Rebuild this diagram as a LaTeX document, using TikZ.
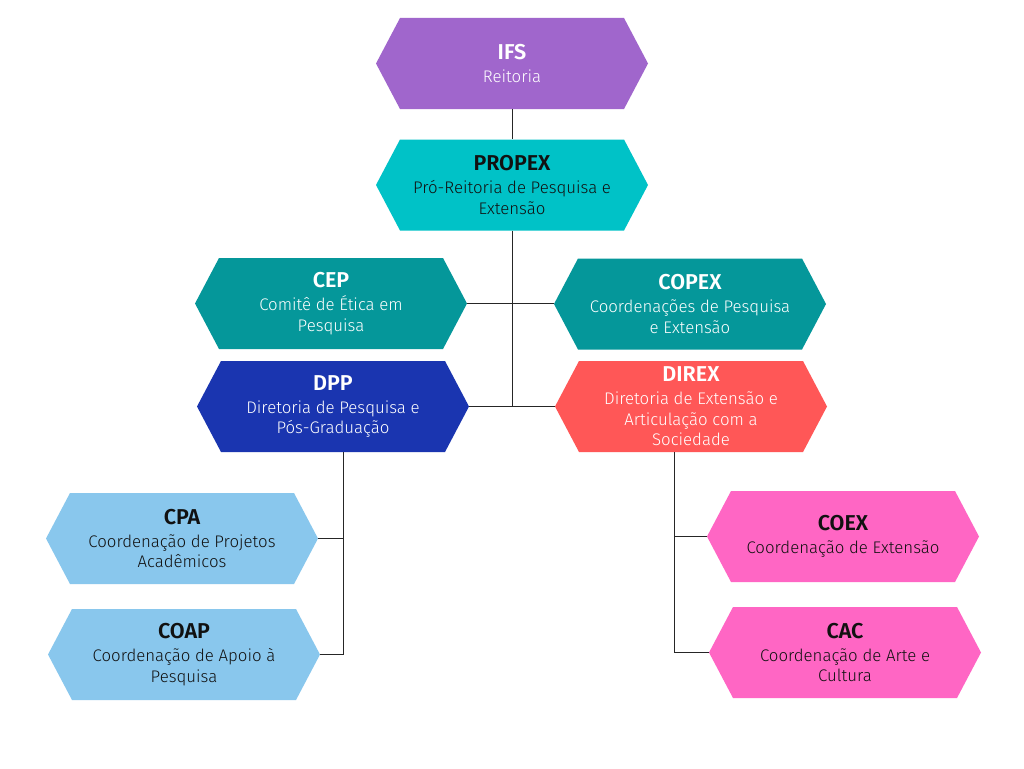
\documentclass[tikz,border=0pt]{standalone}
\usepackage{fontspec}
\setmainfont{Fira Sans}
\newfontfamily\descf{Fira Sans Light}
\newfontfamily\titlef{Fira Sans SemiBold}
\definecolor{cifs}{HTML}{A066CC}
\definecolor{cpropex}{HTML}{00C2C7}
\definecolor{cteal}{HTML}{05979A}
\definecolor{cdpp}{HTML}{1A35B0}
\definecolor{cdirex}{HTML}{FF5757}
\definecolor{clblue}{HTML}{89C7ED}
\definecolor{cpink}{HTML}{FF66C4}
\definecolor{cdark}{HTML}{111111}
\tikzset{
  hexnode/.style={minimum width=272pt, minimum height=91pt, inner sep=0pt,
    align=center, text=#1,
    font=\fontsize{16.8pt}{20.5pt}\descf},
  hexfill/.style={path picture={\fill[#1]
      ([xshift=24pt]path picture bounding box.north west) --
      ([xshift=-24pt]path picture bounding box.north east) --
      (path picture bounding box.east) --
      ([xshift=-24pt]path picture bounding box.south east) --
      ([xshift=24pt]path picture bounding box.south west) --
      (path picture bounding box.west) -- cycle;}},
  link/.style={line width=1pt, draw=black!85}
}
\newcommand{\ttl}[1]{{\fontsize{21.5pt}{24pt}\titlef #1}\\[2.5pt]}
\begin{document}
\begin{tikzpicture}[x=1pt,y=-1pt]
\fill[white] (0,0) rectangle (1024,768);
\useasboundingbox (0,0) rectangle (1024,768);

\node[hexnode=white, hexfill=cifs] (ifs) at (512,63.5) {\ttl{IFS}Reitoria};
\node[hexnode=cdark, hexfill=cpropex] (propex) at (512,185) {\ttl{PROPEX}Pró-Reitoria de Pesquisa e\\Extensão};
\node[hexnode=white, hexfill=cteal] (cep) at (331,303.5) {\ttl{CEP}Comitê de Ética em\\Pesquisa};
\node[hexnode=white, hexfill=cteal] (copex) at (690,304) {\ttl{COPEX}Coordenações de Pesquisa\\e Extensão};
\node[hexnode=white, hexfill=cdpp] (dpp) at (333,406.5) {\ttl{DPP}Diretoria de Pesquisa e\\Pós-Graduação};
\node[hexnode=white, hexfill=cdirex] (direx) at (691,406.5) {\ttl{DIREX}Diretoria de Extensão e\\Articulação com a\\Sociedade};
\node[hexnode=cdark, hexfill=clblue] (cpa) at (182,538.5) {\ttl{CPA}Coordenação de Projetos\\Acadêmicos};
\node[hexnode=cdark, hexfill=clblue] (coap) at (184,654.5) {\ttl{COAP}Coordenação de Apoio à\\Pesquisa};
\node[hexnode=cdark, hexfill=cpink] (coex) at (843,536.5) {\ttl{COEX}Coordenação de Extensão};
\node[hexnode=cdark, hexfill=cpink] (cac) at (845,652.5) {\ttl{CAC}Coordenação de Arte e\\Cultura};

\coordinate (dppd) at ([xshift=10pt]dpp.south);
\coordinate (direxd) at ([xshift=-17pt]direx.south);

\draw[link] (ifs.south) -- (propex.north);
\draw[link] (propex.south) -- (propex.south |- dpp.east);
\draw[link] (cep.east) -- (cep.east -| copex.west);
\draw[link] (dpp.east) -- (direx.west);
\draw[link] (dppd) |- (coap.east);
\draw[link] (cpa.east) -- (cpa.east -| dppd);
\draw[link] (direxd) |- (cac.west);
\draw[link] (coex.west) -- (coex.west -| direxd);
\end{tikzpicture}
\end{document}
